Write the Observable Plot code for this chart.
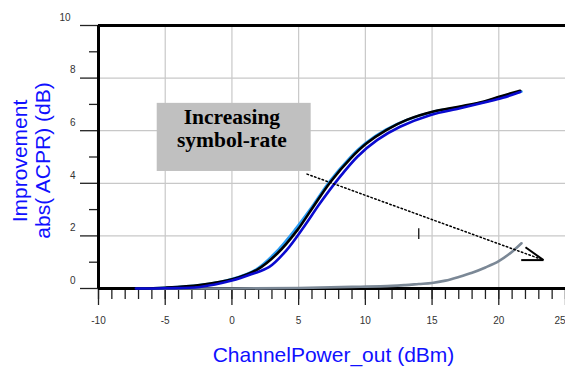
<!DOCTYPE html>
<html>
<head>
<meta charset="utf-8">
<script src="https://cdn.jsdelivr.net/npm/d3@7"></script>
<script src="https://cdn.jsdelivr.net/npm/@observablehq/plot@0.6"></script>
<style>
  html, body { margin: 0; padding: 0; background: white; }
  #chart svg { display: block; }
</style>
</head>
<body>
<div id="chart"></div>
<script>
// ---- data ----
const xMajor = [-10, -5, 0, 5, 10, 15, 20];
const xLast = [25];
const xMinor = d3.range(-10, 26, 1);
const xGrid = [-5, 0, 5, 10, 15, 20];
const yMajor = [0, 2, 4, 6, 8, 10];
const yMinor = [1, 3, 5, 7, 9];
const yGrid = [2, 4, 6, 8];

const blackX = [-7.1, -5, -2.4, 0.1, 1.9, 3.4, 4.9, 6.1, 7.4, 8.9, 10.1, 11.6, 13.1, 15.1, 17.1, 18.9, 20.1, 21.6];
const blackY = [0, 0.03, 0.13, 0.36, 0.72, 1.33, 2.22, 3.11, 4.06, 4.95, 5.52, 6.03, 6.41, 6.73, 6.92, 7.11, 7.30, 7.52];

const lightX = [-7.1, -5, -2.4, 0, 1.8, 3.2, 4.7, 6.0, 7.3, 8.8, 10.0, 11.5, 13.1, 15.1, 17.1, 18.9, 20.1, 21.7];
const lightY = [0, 0.03, 0.13, 0.36, 0.72, 1.33, 2.22, 3.11, 4.06, 4.95, 5.52, 6.03, 6.41, 6.72, 6.90, 7.09, 7.28, 7.49];

const blueX = [-7.2, -5, -2.4, 0, 1.5, 2.8, 4.1, 5.4, 6.6, 7.9, 9.4, 10.9, 12.6, 14.9, 17.1, 18.9, 20.3, 21.6];
const blueY = [0, 0.01, 0.06, 0.30, 0.55, 0.82, 1.46, 2.35, 3.24, 4.12, 5.01, 5.65, 6.15, 6.60, 6.85, 7.07, 7.25, 7.47];

const grayX = [-7, 0, 5, 9, 12, 13, 14, 15, 16, 17, 18, 19, 20, 21, 21.7];
const grayY = [0, 0, 0.02, 0.06, 0.1, 0.13, 0.17, 0.21, 0.3, 0.44, 0.6, 0.8, 1.04, 1.4, 1.72];

// annotation
const boxLabel = ["Increasing", "symbol-rate"];
const boxLabelY = [6.53, 5.64];
const box = {x1: -5.6, x2: 5.94, y1: 4.45, y2: 7.04};
const arrowX = [5.63, 23.35];
const arrowY = [4.35, 1.08];
const headX1 = [22.0, 21.68];
const headY1 = [1.57, 1.08];
const markX = [14.0];
const markY = [1.88, 2.29];

const xTitle = "ChannelPower_out (dBm)";
const yTitle = ["Improvement", "abs( ACPR) (dB)"];

const series = (xs, ys) => xs.map((x, i) => ({x, y: ys[i]}));

const blue = "#1010ff";
const font = "'Liberation Sans', Arial, sans-serif";

const chart = Plot.plot({
  width: 565,
  height: 367,
  marginLeft: 98,
  marginRight: 0,
  marginTop: 25,
  marginBottom: 79,
  x: {domain: [-10, 25]},
  y: {domain: [0, 10]},
  style: {fontFamily: font, fontSize: "10px", background: "white"},
  marks: [
    Plot.ruleX(xGrid, {stroke: "#c8c8c8", strokeWidth: 1.2}),
    Plot.ruleY(yGrid, {stroke: "#c8c8c8", strokeWidth: 1.2}),
    // y ticks
    Plot.axisY({ticks: yMajor, tickSize: 18, tickFormat: () => "", stroke: "#222", strokeWidth: 1.3, label: null}),
    Plot.axisY({ticks: yMinor, tickSize: 9, tickFormat: () => "", stroke: "#222", strokeWidth: 1.3, label: null}),
    Plot.text(yMajor.filter(d => d < 10), {y: d => d, text: d => String(d), frameAnchor: "left", dx: -23, dy: -8, textAnchor: "end", fill: "#333", fontSize: 10}),
    Plot.text([10], {y: d => d, text: d => String(d), frameAnchor: "left", dx: -28, dy: -8, textAnchor: "end", fill: "#333", fontSize: 10}),
    // x ticks
    Plot.axisX({ticks: xMinor, tickSize: 11, tickFormat: () => "", stroke: "#222", strokeWidth: 1.3, label: null}),
    Plot.axisX({ticks: xMajor.concat(xLast), tickSize: 17, tickFormat: () => "", stroke: "#222", strokeWidth: 1.3, label: null}),
    Plot.text(xMajor, {x: d => d, text: d => String(d), frameAnchor: "bottom", dy: 32, lineAnchor: "middle", fill: "#333", fontSize: 10}),
    Plot.text(xLast, {x: d => d, text: d => String(d), frameAnchor: "bottom", dy: 32, lineAnchor: "middle", textAnchor: "end", fill: "#333", fontSize: 10}),
    // frame
    Plot.ruleY([10], {stroke: "black", strokeWidth: 3}),
    Plot.ruleX([-10], {stroke: "black", strokeWidth: 3}),
    Plot.ruleY([0], {stroke: "black", strokeWidth: 3}),
    // annotation box
    Plot.rect([box], {x1: "x1", x2: "x2", y1: "y1", y2: "y2", fill: "#c0c0c0"}),
    Plot.text(boxLabel, {x: 0, y: (d, i) => boxLabelY[i], text: d => d, fontFamily: "'Liberation Serif', 'Times New Roman', serif", fontWeight: "bold", fontSize: 21.5, fill: "black"}),
    // curves
    Plot.line(series(grayX, grayY), {x: "x", y: "y", stroke: "#7b8896", strokeWidth: 2.6, curve: "catmull-rom"}),
    Plot.line(series(lightX, lightY), {x: "x", y: "y", stroke: "#2a9df4", strokeWidth: 2.6, curve: "catmull-rom"}),
    Plot.line(series(blackX, blackY), {x: "x", y: "y", stroke: "black", strokeWidth: 2.6, curve: "catmull-rom"}),
    Plot.line(series(blueX, blueY), {x: "x", y: "y", stroke: "#0a0ad0", strokeWidth: 2.6, curve: "catmull-rom"}),
    // dotted arrow
    Plot.line(series(arrowX, arrowY), {x: "x", y: "y", stroke: "black", strokeWidth: 1.5, strokeDasharray: "1.5,2.5"}),
    Plot.link(headX1.map((x, i) => ({x1: x, y1: headY1[i], x2: arrowX[1], y2: arrowY[1]})), {x1: "x1", y1: "y1", x2: "x2", y2: "y2", stroke: "black", strokeWidth: 2}),
    Plot.link([{x: markX[0], y1: markY[0], y2: markY[1]}], {x1: "x", x2: "x", y1: "y1", y2: "y2", stroke: "#222", strokeWidth: 1.4}),
    // titles
    Plot.text([xTitle], {frameAnchor: "bottom", text: d => d, dx: 1.5, dy: 66.5, lineAnchor: "middle", textAnchor: "middle", fill: blue, fontSize: 21, fontFamily: font}),
    Plot.text([yTitle[0]], {frameAnchor: "left", text: d => d, rotate: -90, dx: -78.5, dy: 4, textAnchor: "middle", lineAnchor: "middle", fill: blue, fontSize: 21, fontFamily: font}),
    Plot.text([yTitle[1]], {frameAnchor: "left", text: d => d, rotate: -90, dx: -55.5, dy: 3.5, textAnchor: "middle", lineAnchor: "middle", fill: blue, fontSize: 21, fontFamily: font})
  ]
});
document.getElementById("chart").appendChild(chart);
</script>
</body>
</html>
